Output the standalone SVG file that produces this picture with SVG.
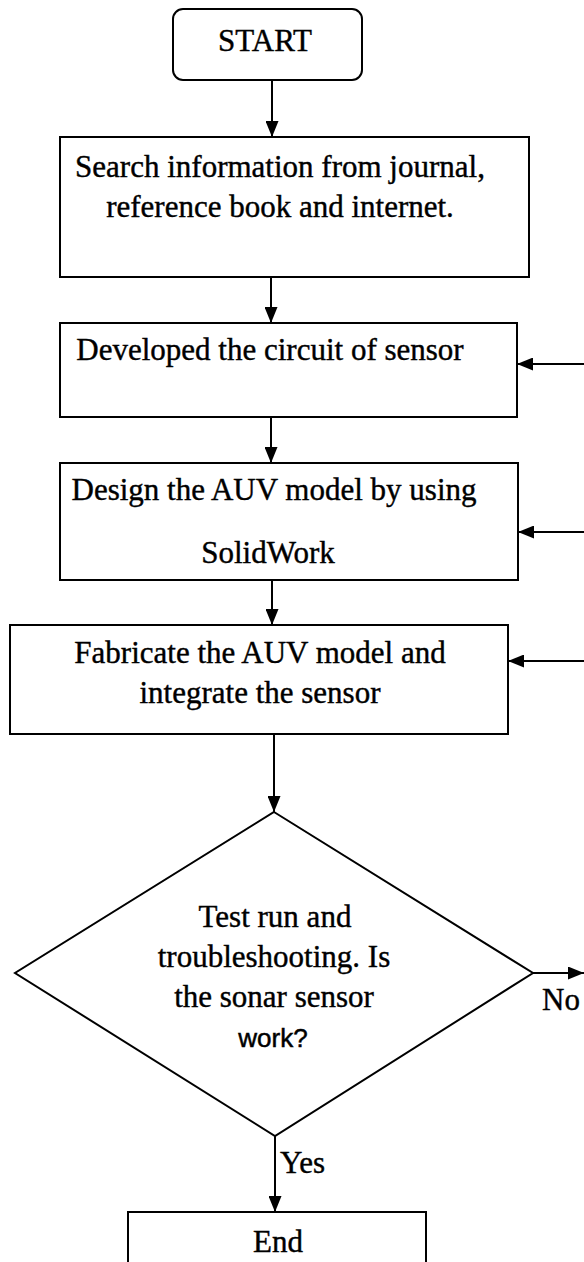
<svg xmlns="http://www.w3.org/2000/svg" width="584" height="1262" viewBox="0 0 584 1262">
  <style>
    .box { fill: #ffffff; stroke: #000000; stroke-width: 2; }
    .line { fill: none; stroke: #000000; stroke-width: 2; }
    .t { font-family: "Liberation Serif", "Times New Roman", serif; font-size: 31px; fill: #000000; stroke: #000000; stroke-width: 0.4; text-anchor: middle; }
    .lbl { font-family: "Liberation Serif", "Times New Roman", serif; font-size: 31px; fill: #000000; stroke: #000000; stroke-width: 0.4; text-anchor: start; }
    .s { font-family: "Liberation Sans", Arial, sans-serif; font-size: 26px; fill: #000000; stroke: #000000; stroke-width: 0.5; text-anchor: middle; }
  </style>
  <defs>
    <marker id="arrow" viewBox="0 0 16 13" refX="16" refY="6.5" markerWidth="16" markerHeight="13" markerUnits="userSpaceOnUse" orient="auto">
      <path d="M0,0 L16,6.5 L0,13 Z" fill="#000000"/>
    </marker>
  </defs>
  <rect width="584" height="1262" fill="#ffffff"/>

  <g id="start">
    <rect class="box" x="173" y="9" width="189" height="71" rx="10" ry="10"/>
    <text class="t" x="265" y="51">START</text>
  </g>

  <g id="search">
    <rect class="box" x="60" y="137" width="469" height="140"/>
    <text class="t" x="280" y="177">Search information from journal,</text>
    <text class="t" x="280" y="217">reference book and internet.</text>
  </g>

  <g id="develop">
    <rect class="box" x="60" y="323" width="457" height="94"/>
    <text class="t" x="270" y="360">Developed the circuit of sensor</text>
  </g>

  <g id="design">
    <rect class="box" x="60" y="463" width="458" height="117"/>
    <text class="t" x="274" y="500">Design the AUV model by using</text>
    <text class="t" x="268" y="563">SolidWork</text>
  </g>

  <g id="fabricate">
    <rect class="box" x="10" y="625" width="498" height="109"/>
    <text class="t" x="260" y="663">Fabricate the AUV model and</text>
    <text class="t" x="260" y="703">integrate the sensor</text>
  </g>

  <g id="decision">
    <polygon class="box" points="274,812 533,973 275,1136 15,973"/>
    <text class="t" x="275" y="927">Test run and</text>
    <text class="t" x="274" y="967">troubleshooting. Is</text>
    <text class="t" x="274" y="1007">the sonar sensor</text>
    <text class="s" x="273" y="1047">work?</text>
  </g>

  <g id="end">
    <rect class="box" x="128" y="1212" width="298" height="60"/>
    <text class="t" x="278" y="1252">End</text>
  </g>

  <g id="connectors">
    <line class="line" x1="272" y1="80" x2="272" y2="137" marker-end="url(#arrow)"/>
    <line class="line" x1="271" y1="277" x2="271" y2="323" marker-end="url(#arrow)"/>
    <line class="line" x1="271" y1="417" x2="271" y2="463" marker-end="url(#arrow)"/>
    <line class="line" x1="272" y1="580" x2="272" y2="625" marker-end="url(#arrow)"/>
    <line class="line" x1="274" y1="734" x2="274" y2="812" marker-end="url(#arrow)"/>
    <line class="line" x1="275" y1="1136" x2="275" y2="1212" marker-end="url(#arrow)"/>
    <line class="line" x1="533" y1="973" x2="584" y2="973" marker-end="url(#arrow)"/>
    <line class="line" x1="584" y1="364" x2="517" y2="364" marker-end="url(#arrow)"/>
    <line class="line" x1="584" y1="532" x2="518" y2="532" marker-end="url(#arrow)"/>
    <line class="line" x1="584" y1="661" x2="508" y2="661" marker-end="url(#arrow)"/>
    <text class="lbl" x="542" y="1010">No</text>
    <text class="lbl" x="280" y="1173">Yes</text>
  </g>
</svg>
